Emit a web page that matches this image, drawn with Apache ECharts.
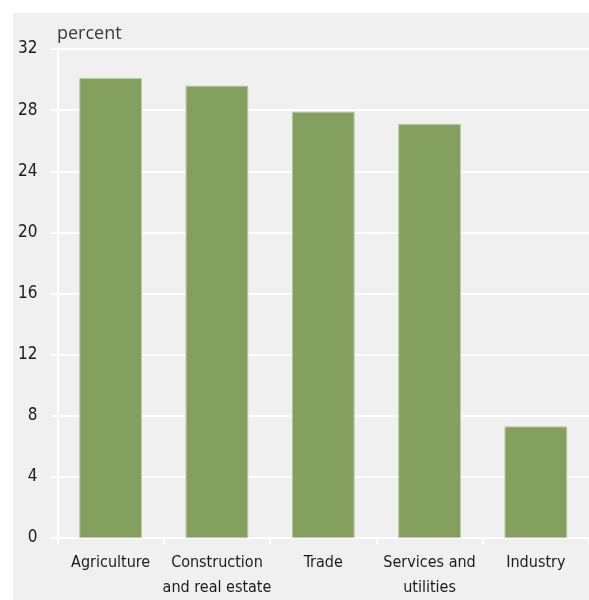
<!DOCTYPE html>
<html>
<head>
<meta charset="utf-8">
<style>
  html, body { margin: 0; padding: 0; background: #ffffff; }
  #chart { width: 589px; height: 600px; }
</style>
<script src="https://cdn.jsdelivr.net/npm/echarts@6/dist/echarts.min.js"></script>
</head>
<body>
<div id="chart"></div>
<script>
// Sector categories and their shares (percent)
const categories = ['Agriculture', 'Construction\nand real estate', 'Trade', 'Services and\nutilities', 'Industry'];
const shares = [30.1, 29.6, 27.9, 27.1, 7.3];
const yTicks = { min: 0, max: 32, interval: 4 };
const unitLabel = 'percent';

const labelFont = '"DejaVu Sans Condensed", "Liberation Sans Narrow", sans-serif';

const chart = echarts.init(document.getElementById('chart'), null, { renderer: 'canvas' });

chart.setOption({
  backgroundColor: '#ffffff',
  animation: false,
  graphic: [
    {
      type: 'rect',
      left: 13, top: 13, z: -10,
      shape: { width: 576, height: 587 },
      style: { fill: '#f0f0f0' }
    },
    {
      type: 'text',
      left: 57, top: 25,
      style: {
        text: unitLabel,
        fill: '#3a3a3a',
        font: '18px "Open Sans", "Noto Sans", sans-serif'
      }
    }
  ],
  grid: { left: 57.5, right: -2, top: 49, bottom: 56, containLabel: false },
  xAxis: {
    type: 'category',
    data: categories,
    boundaryGap: true,
    axisLine: { show: true, lineStyle: { color: '#ffffff', width: 2 } },
    axisTick: { show: true, length: 6, lineStyle: { color: '#ffffff', width: 2 } },
    axisLabel: {
      color: '#1a1a1a',
      fontFamily: labelFont,
      fontSize: 16,
      lineHeight: 25,
      margin: 12,
      interval: 0
    }
  },
  yAxis: {
    type: 'value',
    min: yTicks.min,
    max: yTicks.max,
    interval: yTicks.interval,
    axisLine: { show: true, lineStyle: { color: '#ffffff', width: 2 } },
    axisTick: { show: true, length: 7, lineStyle: { color: '#ffffff', width: 2 } },
    splitLine: { show: true, lineStyle: { color: '#ffffff', width: 2 } },
    axisLabel: {
      color: '#1a1a1a',
      fontFamily: labelFont,
      fontSize: 17,
      margin: 20
    }
  },
  series: [{
    type: 'bar',
    data: shares,
    barWidth: '59%',
    itemStyle: {
      color: '#84a05e',
      borderColor: '#b9c8a6',
      borderWidth: 1
    }
  }]
});
</script>
</body>
</html>
